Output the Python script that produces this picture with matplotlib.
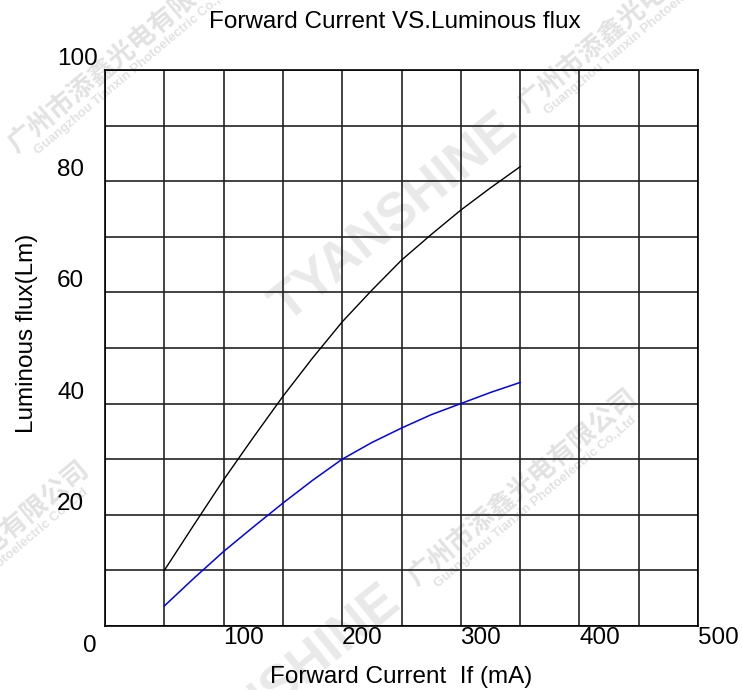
import numpy as np
import matplotlib
matplotlib.use('Agg')
from matplotlib import pyplot as plt
from matplotlib import transforms

plt.rcParams['font.family'] = 'Liberation Sans'

# forward current (mA) and luminous flux (lm)
current = [50, 75, 100, 125, 150, 175, 200, 225, 250, 275, 300, 325, 350]
flux_black = [10.0, 18.2, 26.3, 33.9, 41.3, 48.2, 54.7, 60.4, 65.8, 70.4, 74.8, 78.8, 82.6]
flux_blue = [3.6, 8.6, 13.4, 17.8, 22.1, 26.2, 30.0, 33.0, 35.6, 38.0, 40.0, 42.0, 43.8]

x_labels = [100, 200, 300, 400, 500]
y_labels = [20, 40, 60, 80, 100]

W, H = 742, 690
fig = plt.figure(figsize=(W/100, H/100), dpi=100)
ax = fig.add_axes([105/W, 64/H, 593/W, 556/H])
ax.patch.set_alpha(0)

ax.plot(current, flux_black, color='black', lw=1.0)
ax.plot(current, flux_blue, color='#0000ff', lw=1.1)

ax.set_xlim(0, 500)
ax.set_ylim(0, 100)
ax.set_xticks(np.arange(0, 501, 50))
ax.set_yticks(np.arange(0, 101, 10))
ax.tick_params(length=0, labelbottom=False, labelleft=False)
ax.grid(True, color='#222222', lw=1.2)
for s in ax.spines.values():
    s.set_color('black')
    s.set_linewidth(1.2)

fs = 17.5
# x tick labels sit to the right of their grid lines
tx = transforms.offset_copy(transforms.blended_transform_factory(ax.transData, ax.transAxes),
                            fig=fig, x=20, y=-12, units='dots')
for v in x_labels:
    ax.text(v, 0, str(v), transform=tx, ha='center', va='center', fontsize=fs)
t0 = transforms.offset_copy(ax.transData, fig=fig, x=-15, y=-20, units='dots')
ax.text(0, 0, '0', transform=t0, ha='center', va='center', fontsize=fs)

ty = transforms.offset_copy(transforms.blended_transform_factory(ax.transAxes, ax.transData),
                            fig=fig, x=-48, y=11, units='dots')
for v in y_labels:
    ax.text(0, v, str(v), transform=ty, ha='left', va='center', fontsize=fs)

fig.text(395/W, 1 - 22/H, 'Forward Current VS.Luminous flux', ha='center', va='center', fontsize=17.5)
fig.text(401/W, 1 - 677/H, 'Forward Current  If (mA)', ha='center', va='center', fontsize=17.5)
fig.text(27/W, 1 - 333/H, 'Luminous flux(Lm)', ha='center', va='center', rotation=90, fontsize=17.5)

# faint watermark
for cx, cy in [(395, 218), (278, 690)]:
    fig.text(cx/W, 1 - cy/H, 'TYANSHINE', ha='center', va='center', rotation=39,
             rotation_mode='anchor', fontsize=38, fontweight='bold', color='#e9e9e9', zorder=-1)
for cx, cy in [(523, 488), (633, 15), (123, 55), (-25, 560)]:
    fig.text(cx/W, 1 - cy/H, '广州市添鑫光电有限公司', ha='center', va='center', rotation=40,
             rotation_mode='anchor', fontsize=19, fontweight='bold', color='#e2e2e2',
             family=['Noto Sans CJK SC'], zorder=-1)
    fig.text((cx + 12)/W, 1 - (cy + 14)/H, 'Guangzhou Tianxin Photoelectric Co.,Ltd', ha='center',
             va='center', rotation=40, rotation_mode='anchor', fontsize=9.5, fontweight='bold',
             color='#e2e2e2', zorder=-1)

fig.savefig('out.png', dpi=100)
